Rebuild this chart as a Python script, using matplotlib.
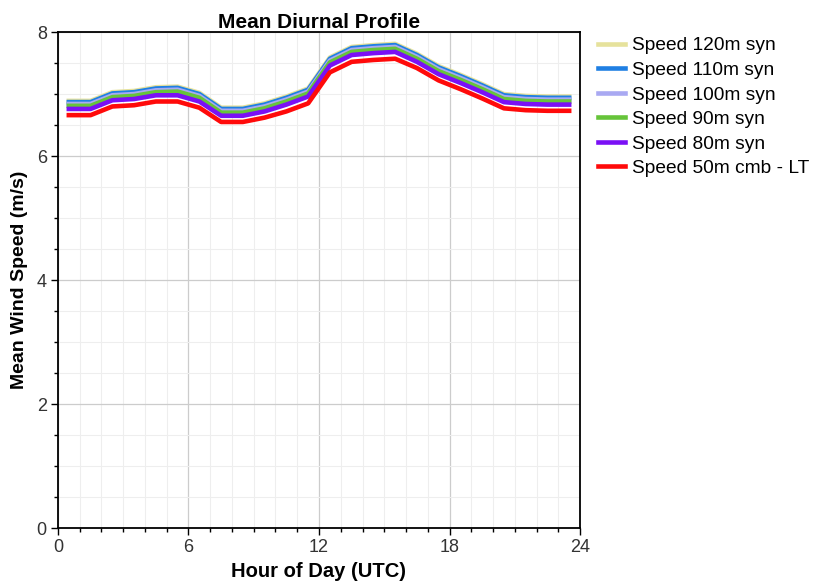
import numpy as np
import matplotlib.pyplot as plt
from matplotlib.ticker import MultipleLocator

plt.rcParams['font.family'] = ['Liberation Sans', 'DejaVu Sans']

# hourly mean values, plotted at the middle of each hour
hours = np.arange(24) + 0.5

speed_120 = [6.89, 6.89, 7.03, 7.05, 7.11, 7.12, 7.02, 6.78, 6.78, 6.85, 6.96, 7.09,
             7.59, 7.76, 7.79, 7.81, 7.65, 7.45, 7.31, 7.16, 7.00, 6.97, 6.96, 6.96]
speed_110 = [6.87, 6.87, 7.01, 7.03, 7.09, 7.10, 7.00, 6.76, 6.76, 6.83, 6.94, 7.07,
             7.57, 7.74, 7.77, 7.79, 7.63, 7.43, 7.29, 7.14, 6.98, 6.95, 6.94, 6.94]
speed_100 = [6.84, 6.84, 6.98, 7.00, 7.06, 7.07, 6.97, 6.73, 6.73, 6.80, 6.91, 7.04,
             7.54, 7.71, 7.74, 7.76, 7.60, 7.40, 7.26, 7.11, 6.95, 6.92, 6.91, 6.91]
speed_90 = [6.81, 6.81, 6.95, 6.97, 7.03, 7.04, 6.94, 6.70, 6.70, 6.77, 6.88, 7.01,
            7.51, 7.68, 7.71, 7.73, 7.57, 7.37, 7.23, 7.08, 6.92, 6.89, 6.88, 6.88]
speed_80 = [6.76, 6.76, 6.90, 6.92, 6.98, 6.98, 6.88, 6.65, 6.65, 6.72, 6.83, 6.96,
            7.46, 7.63, 7.66, 7.68, 7.52, 7.32, 7.18, 7.03, 6.87, 6.84, 6.83, 6.83]
speed_50 = [6.66, 6.66, 6.80, 6.82, 6.88, 6.88, 6.78, 6.55, 6.55, 6.62, 6.72, 6.85,
            7.35, 7.52, 7.55, 7.57, 7.42, 7.22, 7.08, 6.93, 6.77, 6.74, 6.73, 6.73]

labels = ["Speed 120m syn", "Speed 110m syn", "Speed 100m syn",
          "Speed 90m syn", "Speed 80m syn", "Speed 50m cmb - LT"]
series = [speed_120, speed_110, speed_100, speed_90, speed_80, speed_50]
colors = ["#e6e29c", "#1f7fe3", "#a9a9f2", "#66c43a", "#7a10f5", "#ff0a0a"]

fig = plt.figure(figsize=(8.21, 5.83), dpi=100)
ax = fig.add_axes([0.0706, 0.0943, 0.6359, 0.8507])

for vals, lab, col in zip(series, labels, colors):
    ax.plot(hours, vals, color=col, linewidth=3.3, label=lab)

ax.set_xlim(0, 24)
ax.set_ylim(0, 8)
ax.xaxis.set_major_locator(MultipleLocator(6))
ax.xaxis.set_minor_locator(MultipleLocator(1))
ax.yaxis.set_major_locator(MultipleLocator(2))
ax.yaxis.set_minor_locator(MultipleLocator(0.5))

ax.grid(which="major", color="#cccccc", linewidth=0.9)
ax.grid(which="minor", color="#eeeeee", linewidth=0.8)
ax.set_axisbelow(True)

ax.tick_params(which="major", direction="out", length=5, width=1,
               labelsize=13, colors="black", labelcolor="#333333", pad=3)
ax.tick_params(which="minor", direction="out", length=3, width=1)
for s in ax.spines.values():
    s.set_linewidth(1.3)

ax.set_title("Mean Diurnal Profile", fontsize=15, fontweight="bold", pad=2)
ax.set_xlabel("Hour of Day (UTC)", fontsize=14.5, fontweight="bold", labelpad=4)
ax.set_ylabel("Mean Wind Speed (m/s)", fontsize=14, fontweight="bold", labelpad=6)

fig.legend(loc="upper left", bbox_to_anchor=(0.707, 0.966), frameon=False,
           fontsize=13.8, handlelength=1.4, handletextpad=0.4,
           labelspacing=0.37)

fig.savefig("out.png", dpi=100)
plt.close()
